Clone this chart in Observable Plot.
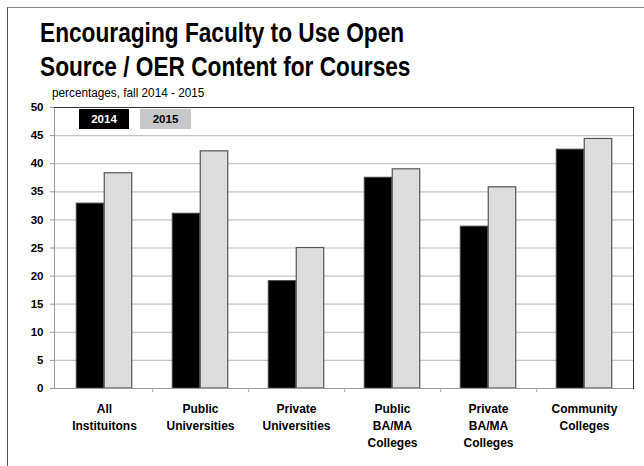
<!DOCTYPE html>
<html><head><meta charset="utf-8">
<script src="https://cdn.jsdelivr.net/npm/d3@7"></script>
<script src="https://cdn.jsdelivr.net/npm/@observablehq/plot@0.6"></script>
<style>
body{margin:0;background:#fff;}
#wrap{position:relative;width:644px;height:466px;overflow:hidden;font-family:"Liberation Sans",Arial,sans-serif;}
#wrap svg{position:absolute;left:0;top:0;}
#border{position:absolute;left:7px;top:7px;width:640px;height:470px;border-left:1px solid #555;border-top:1px solid #888;}
.t{position:absolute;left:40px;font-weight:bold;font-size:28px;white-space:nowrap;transform-origin:0 0;transform:scaleX(0.81);line-height:1;color:#000;}
#sub{position:absolute;left:52px;top:86px;font-size:12px;white-space:nowrap;transform-origin:0 0;transform:scaleX(0.98);color:#000;}
.lg{position:absolute;top:109px;height:20px;font-weight:bold;font-size:11.5px;line-height:20px;text-align:center;}
</style></head>
<body>
<div id="wrap">
  <div id="border"></div>
  <div id="chart"></div>
  <div class="t" id="t1" style="top:19px">Encouraging Faculty to Use Open</div>
  <div class="t" id="t2" style="top:53px">Source / OER Content for Courses</div>
  <div id="sub">percentages, fall 2014 - 2015</div>
  <div class="lg" style="left:79px;width:50px;background:#000;color:#fff;">2014</div>
  <div class="lg" style="left:140px;width:51px;background:#c8c8c8;color:#000;">2015</div>
</div>
<script>
const categories = ["All\nInstituitons","Public\nUniversities","Private\nUniversities","Public\nBA/MA\nColleges","Private\nBA/MA\nColleges","Community\nColleges"];
const values2014 = [32.9, 31.1, 19.1, 37.5, 28.8, 42.5];
const values2015 = [38.3, 42.2, 25.0, 39.0, 35.8, 44.4];
const yTicks = [0,5,10,15,20,25,30,35,40,45,50];

const d14 = categories.map((c,i)=>({category:c, value:values2014[i]}));
const d15 = categories.map((c,i)=>({category:c, value:values2015[i]}));

const W = 644, H = 466, mL = 54, mR = 11, mT = 107, mB = 78;
const bw = (W - mL - mR) / categories.length;
const barW = 28;
const outer = (bw - 2*barW) / 2;

const plot = Plot.plot({
  width: W, height: H,
  marginLeft: mL, marginRight: mR, marginTop: mT, marginBottom: mB,
  style: {fontFamily: '"Liberation Sans", Arial, sans-serif', background: "transparent"},
  x: {domain: categories, padding: 0, label: null},
  y: {domain: [0, 50], label: null},
  marks: [
    Plot.gridY(yTicks.filter(d => d > 0 && d < 50), {stroke: "#c4c4c4", strokeOpacity: 1, strokeWidth: 1.2}),
    Plot.barY(d14, {x: "category", y: "value", fill: "#000", stroke: "#444", strokeWidth: 1, insetLeft: outer, insetRight: outer + barW}),
    Plot.barY(d15, {x: "category", y: "value", fill: "#dddddd", stroke: "#555", strokeWidth: 1.2, insetLeft: outer + barW, insetRight: outer}),
    Plot.frame({anchor: "left", stroke: "#999"}),
    Plot.frame({anchor: "bottom", stroke: "#999", strokeWidth: 1.2}),
    Plot.frame({anchor: "top", stroke: "#333"}),
    Plot.frame({anchor: "right", stroke: "#333"}),
    Plot.ruleX(categories.slice(0, -1), {x: d => d, dx: bw / 2, insetTop: H - mT - mB, insetBottom: -4, stroke: "#aaa"}),
    Plot.axisY({ticks: yTicks, tickSize: 4, tickPadding: 7, fontWeight: "bold", fontSize: 11.5, stroke: "#999", fill: "#000", label: null}),
    Plot.axisX({tickSize: 0, tickPadding: 12, fontWeight: "bold", fontSize: 12, lineHeight: 1.42, fill: "#000", label: null})
  ]
});
document.getElementById("chart").appendChild(plot);
</script>
</body></html>
